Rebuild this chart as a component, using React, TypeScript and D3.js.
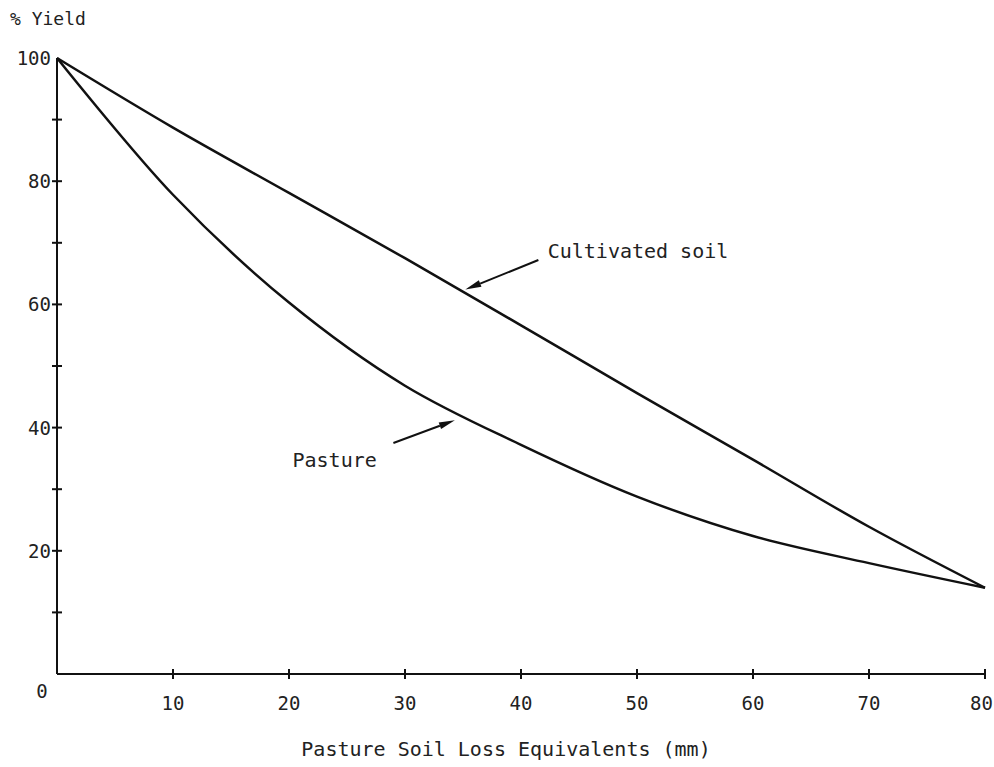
import React, { useRef, useEffect } from 'react';
import * as d3 from 'd3';

// soil loss equivalents (mm)
const lossMm = [0, 10, 20, 30, 40, 50, 60, 70, 80];
// % yield
const cultivatedYield = [100, 88.7, 78.1, 67.5, 56.6, 45.6, 34.8, 23.9, 14];
const pastureYield = [100, 77.8, 60.3, 46.8, 37.2, 28.8, 22.4, 18, 14];

const yTicks = [10, 20, 30, 40, 50, 60, 70, 80, 90];
const yLabels = [20, 40, 60, 80, 100];
const xTicks = [10, 20, 30, 40, 50, 60, 70, 80];

// annotation label + arrow (tail -> tip) in data units
const labelNames = ['Cultivated soil', 'Pasture'];
const labelPos = [[42.3, 67.6], [20.3, 33.6]];
const arrowTail = [[41.5, 67.2], [29.0, 37.5]];
const arrowTip = [[35.2, 62.4], [34.3, 41.2]];

const W = 994;
const H = 767;
const FONT = "'DejaVu Sans Mono', 'Liberation Mono', monospace";

const YieldChart = () => {
    const svgRef = useRef(null);

    useEffect(() => {
        const svg = d3.select(svgRef.current);
        svg.selectAll('*').remove();

        const x = d3.scaleLinear().domain([0, 80]).range([57, 985]);
        const y = d3.scaleLinear().domain([0, 100]).range([674, 58]);

        svg.append('rect').attr('width', W).attr('height', H).attr('fill', '#fff');

        // axes
        svg.append('line')
            .attr('x1', x(0)).attr('x2', x(0))
            .attr('y1', y(100)).attr('y2', y(0))
            .attr('stroke', '#111').attr('stroke-width', 2);
        svg.append('line')
            .attr('x1', x(0)).attr('x2', x(80))
            .attr('y1', y(0)).attr('y2', y(0))
            .attr('stroke', '#111').attr('stroke-width', 2);

        // crossing tick marks
        svg.append('g').selectAll('line').data(yTicks).enter().append('line')
            .attr('x1', x(0) - 5).attr('x2', x(0) + 5)
            .attr('y1', (d) => y(d)).attr('y2', (d) => y(d))
            .attr('stroke', '#111').attr('stroke-width', 2);
        svg.append('g').selectAll('line').data(xTicks).enter().append('line')
            .attr('x1', (d) => x(d)).attr('x2', (d) => x(d))
            .attr('y1', y(0) - 5).attr('y2', y(0) + 5)
            .attr('stroke', '#111').attr('stroke-width', 2);

        const text = svg.append('g')
            .attr('font-family', FONT)
            .attr('fill', '#222');

        // tick labels
        text.selectAll('.yl').data(yLabels).enter().append('text')
            .attr('x', x(0) - 6).attr('y', (d) => y(d) + 7)
            .attr('text-anchor', 'end').attr('font-size', 19)
            .text((d) => d);
        text.selectAll('.xl').data(xTicks).enter().append('text')
            .attr('x', (d) => (d === 80 ? W - 1 : x(d)))
            .attr('y', y(0) + 36)
            .attr('text-anchor', (d) => (d === 80 ? 'end' : 'middle'))
            .attr('font-size', 19)
            .text((d) => d);
        text.append('text')
            .attr('x', x(0) - 15).attr('y', y(0) + 24)
            .attr('text-anchor', 'middle').attr('font-size', 19)
            .text('0');

        // axis titles
        text.append('text')
            .attr('x', 10).attr('y', 25)
            .attr('font-size', 18)
            .text('% Yield');
        text.append('text')
            .attr('x', 506).attr('y', 756)
            .attr('text-anchor', 'middle').attr('font-size', 20)
            .text('Pasture Soil Loss Equivalents (mm)');

        // curves
        const line = d3.line()
            .x((d) => x(d[0]))
            .y((d) => y(d[1]))
            .curve(d3.curveCatmullRom.alpha(0.5));

        [cultivatedYield, pastureYield].forEach((vals) => {
            svg.append('path')
                .datum(lossMm.map((m, i) => [m, vals[i]]))
                .attr('d', line)
                .attr('fill', 'none')
                .attr('stroke', '#111')
                .attr('stroke-width', 2.5);
        });

        // annotations with arrows
        labelNames.forEach((name, i) => {
            text.append('text')
                .attr('x', x(labelPos[i][0])).attr('y', y(labelPos[i][1]))
                .attr('font-size', 20)
                .text(name);

            const x1 = x(arrowTail[i][0]);
            const y1 = y(arrowTail[i][1]);
            const x2 = x(arrowTip[i][0]);
            const y2 = y(arrowTip[i][1]);
            const ang = Math.atan2(y2 - y1, x2 - x1);
            const len = 16;
            const half = 3.5;
            const bx = x2 - len * Math.cos(ang);
            const by = y2 - len * Math.sin(ang);
            svg.append('line')
                .attr('x1', x1).attr('y1', y1).attr('x2', bx).attr('y2', by)
                .attr('stroke', '#111').attr('stroke-width', 2);
            svg.append('path')
                .attr('d', `M${x2},${y2}L${bx + half * Math.sin(ang)},${by - half * Math.cos(ang)}L${bx - half * Math.sin(ang)},${by + half * Math.cos(ang)}Z`)
                .attr('fill', '#111');
        });
    }, []);

    return (
        <svg ref={svgRef} width={W} height={H}
            style={{ position: 'absolute', left: 0, top: 0 }}></svg>
    );
};

export default function App() {
    return <YieldChart />;
}
